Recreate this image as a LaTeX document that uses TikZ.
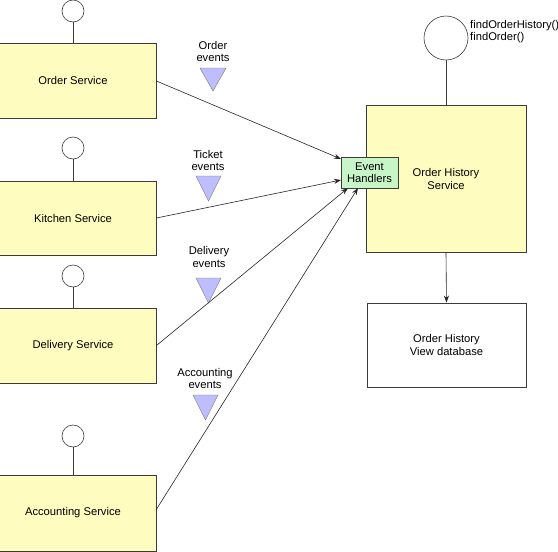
\documentclass[tikz,border=0pt]{standalone}
\usepackage{fontspec}
\setmainfont{Liberation Sans}
\usetikzlibrary{arrows.meta}
\definecolor{svcfill}{RGB}{255,252,192}
\definecolor{ehfill}{RGB}{200,245,200}
\definecolor{trifill}{RGB}{190,190,255}
\definecolor{edge}{RGB}{60,60,60}
\begin{document}
\begin{tikzpicture}[x=1pt,y=-1pt,
  font=\fontsize{11.2}{13}\selectfont,
  svc/.style={draw=edge,fill=svcfill,line width=0.9pt,rectangle,inner sep=0pt,align=center},
  ifc/.style={draw=edge,fill=white,circle,inner sep=0pt,line width=0.6pt},
  stem/.style={draw=edge,line width=0.8pt},
  tri/.style={draw=edge!70,fill=trifill,line width=0.4pt},
  lbl/.style={align=center,inner sep=0pt,font=\fontsize{11.2}{12.5}\selectfont},
  flow/.style={draw=black!85,line width=0.6pt,-{Stealth[length=7pt,width=5pt]}}
]
\useasboundingbox (0,0) rectangle (558,552);
\fill[white] (0,0) rectangle (558,552);

% left services
\node[svc,minimum width=166pt,minimum height=75pt] (os) at (73,80.5) {Order Service};
\node[svc,minimum width=166pt,minimum height=74pt] (ks) at (73,218) {Kitchen Service};
\node[svc,minimum width=166pt,minimum height=75pt] (ds) at (73,345.5) {Delivery Service};
\node[svc,minimum width=166pt,minimum height=76pt] (as) at (73,513) {Accounting Service};

\node[ifc,minimum size=22pt] (osi) at (73,11) {};
\node[ifc,minimum size=22pt] (ksi) at (73,148) {};
\node[ifc,minimum size=22pt] (dsi) at (73,276) {};
\node[ifc,minimum size=22pt] (asi) at (73,436) {};
\draw[stem] (osi.south) -- (os.north);
\draw[stem] (ksi.south) -- (ks.north);
\draw[stem] (dsi.south) -- (ds.north);
\draw[stem] (asi.south) -- (as.north);

% order history service
\node[svc,minimum width=160pt,minimum height=147pt] (ohs) at (446,178.5) {};
\node[lbl] (ohst) at (446,179) {Order History\\Service};
\node[ifc,minimum size=44pt] (ohsi) at (446,38) {};
\draw[stem] (ohsi.south) -- (ohs.north);
\node[anchor=north west,align=left,inner sep=0pt,font=\fontsize{11.2}{12}\selectfont] (ops) at (470,20.5) {findOrderHistory()\\findOrder()};

\node[draw=edge,fill=ehfill,line width=0.9pt,minimum width=57pt,minimum height=31pt,inner sep=0pt,align=center,font=\fontsize{11.2}{12.5}\selectfont] (eh) at (369.5,172.5) {Event\\Handlers};

\node[draw=edge,fill=white,line width=0.8pt,minimum width=159pt,minimum height=84pt,align=center,inner sep=0pt] (db) at (446.5,345) {Order History\\View database};
\draw[flow] (ohs.south) -- (db.north);

% event labels and triangles
\node[lbl] (oel) at (213,51.5) {Order\\events};
\draw[tri] (200,68) -- (226,68) -- (213,91) -- cycle;
\node[lbl] (tel) at (208,160.5) {Ticket\\events};
\draw[tri] (196,176) -- (221,176) -- (208.5,201) -- cycle;
\node[lbl] (del) at (209,257) {Delivery\\events};
\draw[tri] (196,278) -- (221,278) -- (208.5,303) -- cycle;
\node[lbl] (ael) at (205,378.5) {Accounting\\events};
\draw[tri] (193,395) -- (218,395) -- (205.5,420) -- cycle;

% flows
\coordinate (e1) at (341,159);
\coordinate (e2) at (341,180);
\coordinate (e3) at (348,188);
\coordinate (e4) at (358,188);
\draw[flow] (os.east) ++(0,0.5) -- (e1);
\draw[flow] (ks.east) -- (e2);
\draw[flow] (ds.east) -- (e3);
\draw[flow] (156,510) -- (e4);
\end{tikzpicture}
\end{document}
